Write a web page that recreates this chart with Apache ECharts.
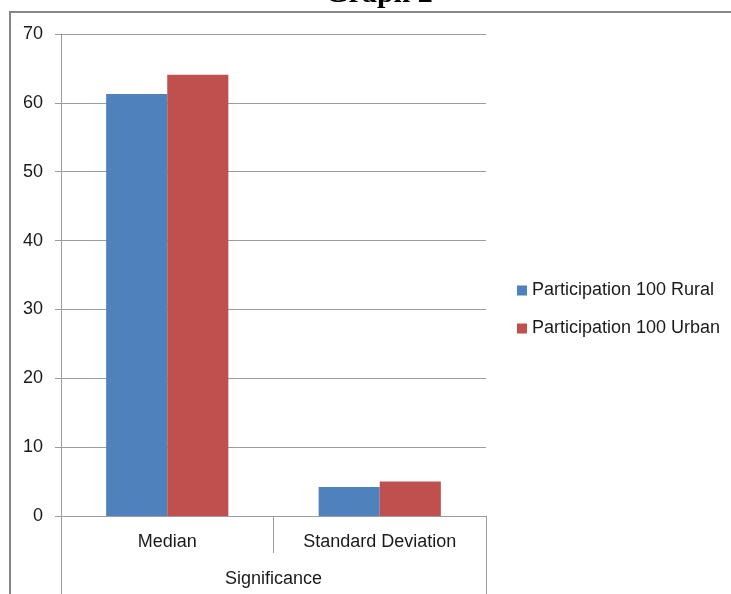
<!DOCTYPE html>
<html>
<head>
<meta charset="utf-8">
<script src="https://cdn.jsdelivr.net/npm/echarts@6/dist/echarts.min.js"></script>
<style>
  html, body { margin: 0; padding: 0; background: #fff; }
  #chart { width: 731px; height: 594px; }
</style>
</head>
<body>
<div id="chart"></div>
<script>
// Category labels and grouping
const categories = ['Median', 'Standard Deviation'];
const groupLabel = ['Significance'];

// Series values
const ruralValues = [61.3, 4.2];
const urbanValues = [64.1, 5.0];

const seriesNames = ['Participation 100 Rural', 'Participation 100 Urban'];
const seriesColors = ['#4F81BD', '#C0504D'];

const FONT = '"Liberation Sans", Arial, sans-serif';
const AXIS_GRAY = '#9c9c9c';

const chart = echarts.init(document.getElementById('chart'), null, { renderer: 'canvas' });

chart.setOption({
  animation: false,
  backgroundColor: '#ffffff',
  textStyle: { fontFamily: FONT },
  graphic: [
    {
      // outer frame (top and left edges)
      type: 'polyline',
      shape: { points: [[10, 600], [10, 12], [740, 12]] },
      style: { stroke: '#868686', lineWidth: 2, fill: null },
      silent: true
    },
    {
      type: 'text',
      x: 379,
      y: -6,
      style: {
        text: 'Graph 2',
        font: 'bold 30px "Liberation Serif", "Times New Roman", serif',
        fill: '#000',
        textAlign: 'center',
        textVerticalAlign: 'middle'
      },
      silent: true
    }
  ],
  grid: { left: 61, right: 245, top: 34, bottom: 78, containLabel: false },
  legend: {
    orient: 'vertical',
    left: 512,
    top: 275,
    itemWidth: 10,
    itemHeight: 10,
    itemGap: 17,
    icon: 'rect',
    data: seriesNames,
    textStyle: { fontFamily: FONT, fontSize: 18, color: '#1a1a1a', lineHeight: 21 }
  },
  xAxis: [
    {
      type: 'category',
      data: categories,
      position: 'bottom',
      boundaryGap: true,
      axisLine: { show: true, lineStyle: { color: AXIS_GRAY, width: 1 } },
      axisTick: { show: true, alignWithLabel: false, length: 37, lineStyle: { color: AXIS_GRAY } },
      axisLabel: { fontFamily: FONT, fontSize: 18, color: '#1a1a1a', margin: 17, interval: 0 }
    },
    {
      type: 'category',
      data: groupLabel,
      position: 'bottom',
      offset: 37,
      boundaryGap: true,
      axisLine: { show: false },
      axisTick: { show: true, alignWithLabel: false, length: 42, lineStyle: { color: AXIS_GRAY } },
      axisLabel: { fontFamily: FONT, fontSize: 18, color: '#1a1a1a', margin: 17 }
    }
  ],
  yAxis: {
    type: 'value',
    min: 0,
    max: 70,
    interval: 10,
    axisLine: { show: true, lineStyle: { color: AXIS_GRAY, width: 1 } },
    axisTick: { show: true, inside: false, length: 6, lineStyle: { color: AXIS_GRAY } },
    axisLabel: { fontFamily: FONT, fontSize: 18, color: '#1a1a1a', margin: 18 },
    splitLine: { show: true, lineStyle: { color: AXIS_GRAY, width: 1 } }
  },
  series: [
    {
      name: seriesNames[0],
      type: 'bar',
      data: ruralValues,
      barGap: '0%',
      barCategoryGap: '42.5%',
      itemStyle: { color: seriesColors[0] }
    },
    {
      name: seriesNames[1],
      type: 'bar',
      data: urbanValues,
      barGap: '0%',
      barCategoryGap: '42.5%',
      itemStyle: { color: seriesColors[1] }
    }
  ]
});
</script>
</body>
</html>
